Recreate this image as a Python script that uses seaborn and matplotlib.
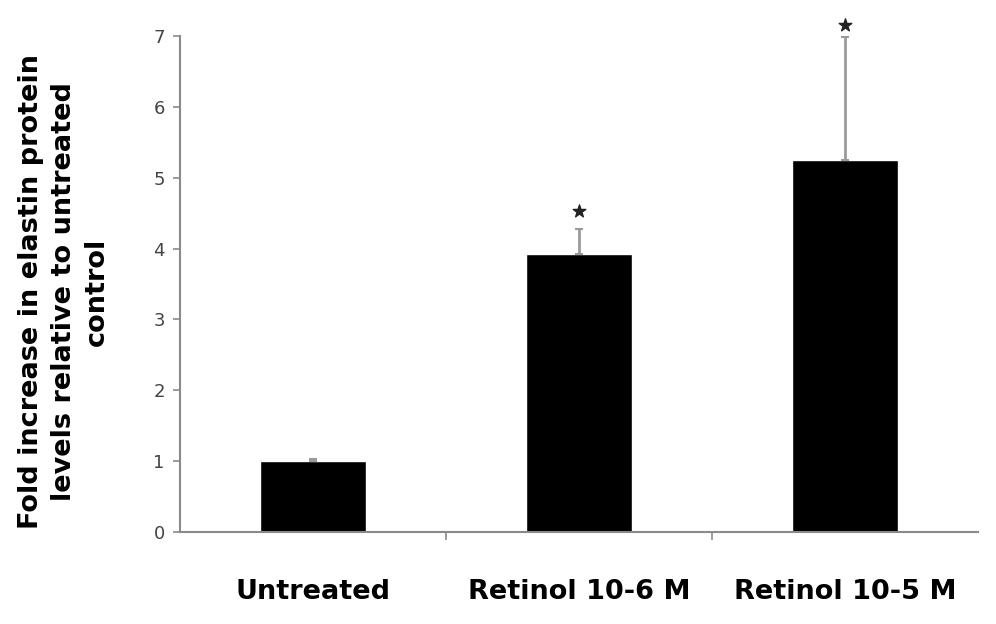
import matplotlib
matplotlib.use("Agg")
import matplotlib.pyplot as plt
import seaborn as sns
import pandas as pd

# data
groups = ["Untreated", "Retinol 10-6 M", "Retinol 10-5 M"]
fold_change = [1.0, 3.92, 5.25]
err_upper = [0.03, 0.35, 1.73]
star_y = [None, 4.53, 7.15]

df = pd.DataFrame({"group": groups, "fold": fold_change})

sns.set_style("white")
fig = plt.figure(figsize=(9.96, 6.24), dpi=100)
ax = fig.add_axes([0.1807, 0.1474, 0.8013, 0.7949])

sns.barplot(data=df, x="group", y="fold", color="black", width=0.4,
            saturation=1, ax=ax, errorbar=None)

# one-sided error bars (grey, like the original)
ax.errorbar(range(len(groups)), fold_change,
            yerr=[[0] * len(groups), err_upper], fmt="none",
            ecolor="#9a9a9a", elinewidth=2, capsize=3, capthick=1.5)

# significance stars
for i, s in enumerate(star_y):
    if s is not None:
        ax.scatter(i, s, marker="*", s=90, color="#222222", zorder=5,
                   clip_on=False)

ax.set_xlim(-0.5, 2.5)
ax.set_ylim(0, 7)
ax.set_yticks(range(0, 8))
ax.set_xlabel("")
ax.set_ylabel("Fold increase in elastin protein\nlevels relative to untreated\ncontrol",
              fontsize=19.5, fontweight="bold", linespacing=1.35, color="black")
ax.yaxis.set_label_coords(-0.088, 0.485)

for side in ["top", "right"]:
    ax.spines[side].set_visible(False)
for side in ["left", "bottom"]:
    ax.spines[side].set_color("#8a8a8a")
    ax.spines[side].set_linewidth(1.5)

ax.tick_params(axis="y", left=True, length=5, width=1.2, color="#8a8a8a",
               labelsize=13, labelcolor="#444444", pad=6)
ax.tick_params(axis="x", bottom=False, labelsize=19.5, labelcolor="black", pad=30)
for lbl in ax.get_xticklabels():
    lbl.set_fontweight("bold")
ax.set_xticks([0.5, 1.5], minor=True)
ax.tick_params(axis="x", which="minor", bottom=True, length=6, width=1.2,
               color="#8a8a8a")

fig.savefig("out.png", dpi=100)
